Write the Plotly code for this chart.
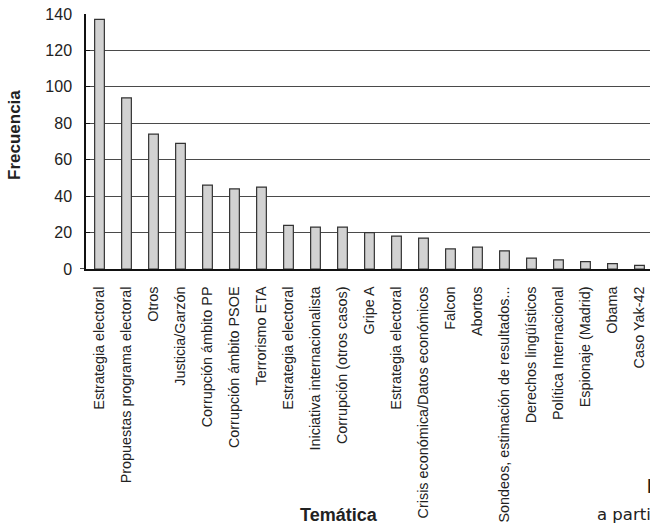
import plotly.graph_objects as go

# Topic labels (some repeat, so positions are indexed numerically)
temas = [
    "Estrategia electoral",
    "Propuestas programa electoral",
    "Otros",
    "Justicia/Garzón",
    "Corrupción ámbito PP",
    "Corrupción ámbito PSOE",
    "Terrorismo ETA",
    "Estrategia electoral",
    "Iniciativa internacionalista",
    "Corrupción (otros casos)",
    "Gripe A",
    "Estrategia electoral",
    "Crisis económica/Datos económicos",
    "Falcon",
    "Abortos",
    "Sondeos, estimación de resultados...",
    "Derechos lingüísticos",
    "Política Internacional",
    "Espionaje (Madrid)",
    "Obama",
    "Caso Yak-42",
]
frecuencias = [137, 94, 74, 69, 46, 44, 45, 24, 23, 23, 20, 18, 17, 11, 12, 10, 6, 5, 4, 3, 2]
y_ticks = [0, 20, 40, 60, 80, 100, 120, 140]

posiciones = list(range(len(temas)))
FONT = "Liberation Sans, Arial, sans-serif"
TXT = "#222222"

# plot area geometry in pixels
L, T, B = 86, 14, 254
W, H = 650 - L, 523 - T - B

fig = go.Figure(
    go.Bar(
        x=posiciones,
        y=frecuencias,
        marker=dict(color="#d2d2d2", line=dict(color="#333333", width=1.2)),
        width=0.36,
        hoverinfo="skip",
    )
)

fig.update_layout(
    width=650,
    height=523,
    margin=dict(l=L, r=0, t=T, b=B),
    plot_bgcolor="white",
    paper_bgcolor="white",
    showlegend=False,
    font=dict(family=FONT, color=TXT),
)

fig.update_xaxes(
    range=[-0.5, 20.39],
    tickmode="array",
    tickvals=posiciones,
    ticktext=temas,
    tickangle=-90,
    tickfont=dict(family=FONT, size=14.4, color=TXT),
    showgrid=False,
    showline=True,
    linecolor="#111111",
    linewidth=1.5,
    ticks="",
    ticklabelstandoff=10,
    zeroline=False,
)

fig.update_yaxes(
    range=[0, 140],
    tickmode="array",
    tickvals=y_ticks,
    tickfont=dict(family=FONT, size=16, color=TXT),
    showgrid=True,
    gridcolor="#4a4a4a",
    gridwidth=1,
    showline=True,
    linecolor="#111111",
    linewidth=1.5,
    ticks="inside",
    ticklen=4,
    tickcolor="#111111",
    ticklabelstandoff=9,
    zeroline=False,
)

# Small overhangs where the two axes cross
fig.add_shape(type="line", xref="paper", yref="y", xsizemode="pixel", xanchor=0,
              x0=-6, x1=0, y0=0, y1=0, line=dict(color="#111111", width=1.5))
fig.add_shape(type="line", xref="paper", yref="y", ysizemode="pixel", yanchor=0,
              x0=0, x1=0, y0=0, y1=-10, line=dict(color="#111111", width=1.5))


def px(x, y):
    """Pixel position on the page -> paper coordinates."""
    return (x - L) / W, (523 - B - y) / H


# Axis titles
fx, fy = px(14, 135)
fig.add_annotation(text="<b>Frecuencia</b>", xref="paper", yref="paper", x=fx, y=fy,
                   showarrow=False, textangle=-90, xanchor="center", yanchor="middle",
                   font=dict(family=FONT, size=17, color=TXT))
tx, ty = px(339, 515)
fig.add_annotation(text="<b>Temática</b>", xref="paper", yref="paper", x=tx, y=ty,
                   showarrow=False, xanchor="center", yanchor="middle",
                   font=dict(family=FONT, size=18, color=TXT))

# Source note running off the right edge
sx, sy = px(645, 486)
fig.add_annotation(text="<b>Fuente</b>", xref="paper", yref="paper", x=sx, y=sy,
                   showarrow=False, xanchor="left", yanchor="middle",
                   font=dict(family=FONT, size=20, color=TXT))
ax, ay = px(595, 514)
fig.add_annotation(text="a partir de", xref="paper", yref="paper", x=ax, y=ay,
                   showarrow=False, xanchor="left", yanchor="middle",
                   font=dict(family="DejaVu Sans, sans-serif", size=16.5, color=TXT))

fig.write_html("out.html")
